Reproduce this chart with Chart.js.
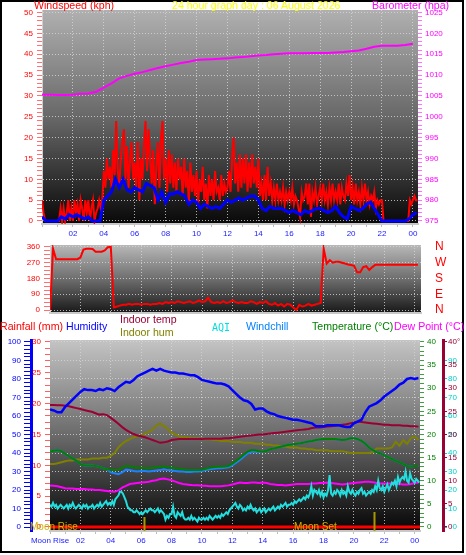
<!DOCTYPE html>
<html>
<head>
<meta charset="utf-8">
<script src="https://cdn.jsdelivr.net/npm/chart.js@4.4.1/dist/chart.umd.min.js"></script>
<style>
  body { margin: 0; background: #fff; }
  #wrap { position: relative; width: 466px; height: 555px; overflow: hidden; font-family: 'Liberation Sans', Arial, sans-serif; }
  #frame { position: absolute; left: 0; top: 0; width: 464px; height: 553px; border: 2px solid #000; box-sizing: border-box; z-index: 5; pointer-events: none; }
  canvas { position: absolute; left: 0; }
  .t { position: absolute; font-size: 10.6px; line-height: 13px; white-space: nowrap; z-index: 6; }
</style>
</head>
<body>
<div id="wrap">
  <canvas id="wind" width="466" height="245" style="top:0"></canvas>
  <canvas id="dir" width="466" height="87" style="top:235px"></canvas>
  <canvas id="outdoor" width="466" height="234" style="top:321px"></canvas>
  <div id="frame"></div>

  <div class="t" style="left:34px;top:-1px;color:#ff0000">Windspeed (kph)</div>
  <div class="t" style="left:172px;top:-1px;color:#ffff00">24 hour graph day : 06 August 2026</div>
  <div class="t" style="left:372px;top:-1px;color:#ff00ff">Barometer (hpa)</div>

  <div class="t" style="left:0;top:320px;color:#ff0000">Rainfall (mm)</div>
  <div class="t" style="left:66px;top:320px;color:#0000ff">Humidity</div>
  <div class="t" style="left:120px;top:313px;color:#990033">Indoor temp</div>
  <div class="t" style="left:120px;top:326px;color:#808000">Indoor hum</div>
  <div class="t" style="left:212px;top:321px;color:#00dddd;font-family:'DejaVu Sans Mono',monospace;font-size:10px">AQI</div>
  <div class="t" style="left:246px;top:320px;color:#0080ff">Windchill</div>
  <div class="t" style="left:312px;top:320px;color:#008000">Temperature (°C)</div>
  <div class="t" style="left:394px;top:320px;color:#ff00ff">Dew Point (°C)</div>
</div>

<script>
const FONT = "'Liberation Sans', Arial, sans-serif";
const GRID = 'rgba(215,215,215,0.8)';

// --- x axis (hours of the day) ---
const hourValues = [0, 2, 4, 6, 8, 10, 12, 14, 16, 18, 20, 22, 24];
const hourLabels = ['', '02', '04', '06', '08', '10', '12', '14', '16', '18', '20', '22', '00'];
const hourLabelsMoon = ['Moon Rise', '02', '04', '06', '08', '10', '12', '14', '16', '18', '20', '22', '00'];

// --- panel 1: wind + barometer ---
const windValues = [0, 5, 10, 15, 20, 25, 30, 35, 40, 45, 50];
const windLabels = ['0', '5', '10', '15', '20', '25', '30', '35', '40', '45', '50'];
const baroValues = [975, 980, 985, 990, 995, 1000, 1005, 1010, 1015, 1020, 1025];
const baroLabels = ['975', '980', '985', '990', '995', '1000', '1005', '1010', '1015', '1020', '1025'];

// gust, one value every 6 minutes, one row per hour
const GUST_STEP = 0.1;
const gustKph = [
  5, 2, 0, 0, 0, 0, 0, 0, 0, 0,
  0, 0, 3, 0, 3, 0, 2, 5, 0, 3,
  0, 5, 2, 4, 0, 5, 3, 0, 5, 2,
  5, 0, 3, 5, 0, 2, 3, 5, 3, 5,
  12, 8, 15, 10, 13, 8, 17, 11, 24, 12,
  9, 15, 19, 22, 10, 18, 8, 15, 19, 10,
  14, 8, 19, 5, 15, 10, 18, 24, 12, 22,
  15, 9, 17, 4, 13, 19, 8, 20, 24, 10,
  15, 7, 17, 9, 16, 8, 14, 7, 15, 10,
  13, 6, 15, 8, 12, 4, 14, 7, 11, 6,
  12, 4, 10, 7, 13, 5, 9, 3, 11, 6,
  10, 5, 12, 7, 8, 5, 11, 6, 9, 7,
  8, 12, 7, 15, 20, 9, 14, 7, 16, 8,
  15, 9, 16, 7, 14, 8, 16, 9, 13, 8,
  15, 6, 9, 5, 11, 5, 13, 6, 9, 5,
  8, 5, 9, 5, 7, 5, 8, 4, 7, 5,
  7, 5, 8, 4, 6, 5, 3, 1, 7, 5,
  6, 9, 4, 9, 1, 7, 5, 8, 4, 6,
  8, 5, 9, 5, 7, 4, 8, 5, 9, 5,
  7, 5, 9, 4, 8, 6, 5, 9, 6, 11,
  5, 8, 4, 9, 5, 7, 4, 8, 5, 9,
  5, 7, 4, 6, 5, 7, 3, 5, 4, 5,
  5, 0, 0, 0, 0, 0, 0, 0, 0, 0,
  0, 0, 0, 0, 0, 0, 0, 0, 5, 4,
  5, 6, 5, 5
];

// average wind, every 15 minutes
const AVG_STEP = 0.25;
const avgKph = [
  1, 0, 0, 0,
  0, 1, 0.5, 1.5,
  1, 1.5, 1, 0.5,
  1, 0, 0, 0,
  5, 6, 7, 10,
  8, 10, 7.5, 7,
  8, 7.5, 7, 9,
  8.5, 8, 5, 7,
  4.5, 6.5, 6.5, 7,
  6.5, 6, 4, 5,
  4.5, 3, 4, 3.5,
  3, 3.5, 3, 4,
  5, 4.5, 5, 5.5,
  5, 5.5, 6, 6,
  5, 3, 2.5, 3.5,
  3, 3, 3, 2.5,
  2, 2.5, 2, 1.5,
  2.5, 2, 2.5, 3,
  3, 2.5, 2, 2.5,
  3.5, 2, 1, 0.5,
  3.5, 3, 2.5, 3,
  4, 4.5, 3, 1.5,
  0, 0, 0, 0,
  0, 0, 0, 0.5,
  1.5, 2
];

// barometer, every 30 minutes
const BARO_STEP = 0.5;
const baroHpa = [
  1005.3, 1005.3, 1005.2, 1005.2, 1005.3, 1005.5, 1005.6, 1006,
  1007, 1008, 1009.2, 1009.8, 1010.3, 1010.7, 1011.2, 1011.7,
  1012.1, 1012.5, 1012.9, 1013.2, 1013.6, 1013.7, 1013.8, 1013.9,
  1014, 1014.2, 1014.3, 1014.5, 1014.7, 1014.8, 1015, 1015.1,
  1015.2, 1015.2, 1015.2, 1015.3, 1015.3, 1015.3, 1015.4, 1015.5,
  1015.7, 1015.9, 1016.3, 1016.8, 1017, 1017, 1017, 1017.2,
  1017.5
];

// --- panel 2: wind direction ---
const dirValues = [0, 90, 180, 270, 360];
const dirLabels = ['0', '90', '180', '270', '360'];
const compassLabels = ['N', 'E', 'S', 'W', 'N'];
const DIR_STEP = 0.2;
const dirDeg = [
  0, 350, 290, 290, 290,
  290, 290, 290, 290, 290,
  300, 345, 350, 350, 348,
  333, 333, 333, 340, 358,
  360, 15, 20, 25, 30,
  30, 35, 30, 35, 35,
  30, 35, 35, 30, 35,
  35, 40, 35, 45, 40,
  45, 40, 50, 45, 40,
  45, 50, 40, 45, 55,
  45, 50, 70, 45, 40,
  45, 40, 50, 40, 45,
  55, 45, 40, 45, 40,
  40, 50, 45, 35, 45,
  40, 50, 35, 30, 40,
  25, 35, 20, 35, 30,
  15, 0, 30, 20, 25,
  35, 25, 30, 35, 40,
  350, 265, 285, 270, 275,
  275, 270, 265, 260, 257,
  252, 215, 215, 245, 250,
  228, 245, 258, 258, 258,
  258, 258, 258, 258, 258,
  258, 258, 258, 258, 258,
  258, 258
];

// --- panel 3: outdoor / indoor ---
const humValues = [0, 10, 20, 30, 40, 50, 60, 70, 80, 90, 100];
const humLabels = ['0', '10', '20', '30', '40', '50', '60', '70', '80', '90', '100'];
const rainValues = [0, 5, 10, 15, 20, 25, 30];
const rainLabels = ['0', '5', '10', '15', '20', '25', '30'];
const tempValues = [0, 5, 10, 15, 20, 25, 30, 35, 40];
const tempLabels = ['0', '5', '10', '15', '20', '25', '30', '35', '40'];
const dewLabels = ['0', '5', '10', '15', '20', '25', '30', '35', '40°'];
const aqiValues = [0, 10, 20, 30, 40, 50, 60, 70, 80, 90];
const aqiLabels = ['0', '10', '20', '30', '40', '50', '60', '70', '80', '90'];

const Q_STEP = 0.25;
const humidity = [
  63.5, 63, 62, 62,  65, 67, 69, 71,  73, 74.5, 74, 74,  73.5, 74.5, 74, 75,
  74.5, 73.5, 75.5, 77,  78.5, 78, 79.5, 81.5,  82.5, 83.5, 84.5, 85.5,  84.5, 85.5, 84.5, 84,
  83.5, 83.5, 83, 83,  82.5, 82, 82, 81,  79.5, 79, 78.5, 78,  77.5, 77.5, 77, 76,
  74, 72, 70, 68.5,  68, 66.5, 63.5, 64,  64, 62.5, 61.5, 61,  60, 59.5, 59, 58.5,
  58, 58, 57.5, 57,  56.5, 56, 54.5, 54.5,  54.5, 55, 55, 55,  55, 54.5, 54, 54,
  56, 57, 58, 62,  65, 66, 67, 68.5,  70.5, 72, 73.5, 75,  77, 78, 80, 80.5,
  80, 80.5
];
const temperature = [
  16.3, 16.5, 16.6, 16.4,  15.8, 15.3, 14.8, 14.3,  13.6, 13.3, 13.3, 13.3,  13.2, 13, 12.7, 12.5,
  12.4, 12.3, 12.4, 12.8,  13.2, 13.1, 12.9, 12.8,  12.8, 12.7, 12.7, 12.8,  12.9, 13, 13.1, 12.9,
  12.8, 12.7, 12.6, 12.5,  12.3, 12.3, 12.3, 12.3,  12.4, 12.6, 12.8, 12.9,  13, 13, 13.1, 13.2,
  13.7, 14.3, 14.9, 15.6,  16.3, 16.6, 16.6, 16.4,  16.3, 16.5, 16.8, 17,  17.2, 17.4, 17.6, 17.8,
  17.9, 18, 18.1, 18.3,  18.5, 18.6, 18.8, 18.9,  19, 19, 19, 19,  18.9, 18.8, 18.9, 19.2,
  19.2, 19, 18.6, 18,  17.2, 16.6, 16.2, 15.9,  15.5, 15.1, 14.7, 14.3,  14, 13.6, 13.2, 13.1,
  13.2, 13.2
];
const windchill = [
  16.3, 16.5, 16.6, 16.4,  15.8, 15.3, 14.8, 14.3,  13.6, 13.3, 13.3, 13.3,  13.2, 13, 12.7, 12.5,
  11.8, 11.6, 11.4, 11.8,  12.4, 12.3, 12.1, 12,  12.1, 12.1, 12, 12.1,  12.2, 12.3, 12.5, 12.3,
  12.2, 12.1, 12, 12,  11.9, 11.9, 12, 12,  12.1, 12.3, 12.5, 12.6,  12.7, 12.7, 12.8, 12.9,
  13.3, 13.9, 14.5, 15.2,  15.9, 16.2, 16.3, 16.2,  16.3, 16.5, 16.8, 17,  17.2, 17.4, 17.6, 17.8,
  17.9, 18, 18.1, 18.3,  18.5, 18.6, 18.8, 18.9,  19, 19, 19, 19,  18.9, 18.8, 18.9, 19.2,
  19.2, 19, 18.6, 18,  17.2, 16.6, 16.2, 15.9,  15.5, 15.1, 14.7, 14.3,  14, 13.6, 13.2, 13.1,
  13.2, 13.2
];
const indoorTemp = [
  26.4, 26.4, 26.3, 26.3,  26.2, 26.1, 25.9, 25.7,  25.5, 25.3, 25.1, 24.9,  24.6, 24.3, 24.4, 24.2,
  23.6, 23, 22.3, 21.6,  21, 20.5, 20.1, 19.8,  19.6, 19.4, 19.1, 18.8,  18.5, 18.2, 18.3, 18.5,
  18.8, 18.9, 19, 19,  19, 19, 19, 19,  19, 19.1, 19.1, 19.1,  19.1, 19.1, 19.2, 19.2,
  19.3, 19.4, 19.5, 19.6,  19.7, 19.8, 19.9, 20,  20, 20.1, 20.2, 20.3,  20.4, 20.5, 20.6, 20.7,
  20.8, 20.9, 21, 21.1,  21.2, 21.4, 21.5, 21.5,  21.6, 21.7, 21.8, 21.9,  22, 22.1, 22.2, 22.4,
  22.6, 22.8, 22.7, 22.6,  22.5, 22.4, 22.3, 22.2,  22.1, 22.1, 22, 22,  22, 21.9, 21.9, 21.8,
  21.8, 21.7
];
const indoorHum = [
  34, 34, 34.5, 35,  35.5, 36, 36, 36.5,  36.5, 36.5, 36.5, 37,  37, 37, 37.5, 37.5,
  38.5, 40, 43, 45,  46.5, 47.5, 48.5, 49,  49.5, 50.5, 51.5, 52.5,  55, 56, 54.5, 53,
  51, 50, 49, 48.5,  48.5, 48, 48, 48,  47.5, 47.5, 47.5, 47,  47, 46.5, 46.5, 46.5,
  46, 46, 46, 45.5,  45.5, 45.5, 45, 45,  45, 44.5, 44.5, 44,  44, 43.5, 43.5, 43,
  43, 43, 42.5, 42.5,  42, 42, 41.5, 41.5,  41.5, 41.5, 41, 41,  41, 41, 40.5, 40,
  40, 40, 40, 40,  40, 40.5, 42.5, 42.5,  42.5, 42.5, 43, 46,  44, 47, 45, 48,
  49, 47
];
const dewPoint = [
  9, 8.9, 8.8, 8.6,  8.4, 8.3, 8.3, 8.2,  8.2, 8.2, 8.1, 8.1,  8, 8, 7.9, 7.8,
  7.7, 7.6, 7.9, 8.5,  8.9, 9.3, 9.4, 9.5,  9.6, 9.7, 9.8, 10,  10.1, 10.4, 10.5, 10.3,
  10.1, 9.8, 9.5, 9.3,  9.2, 9.1, 9, 9,  8.9, 8.9, 8.8, 8.8,  8.8, 8.8, 8.9, 9,
  9.2, 9.4, 9.6, 9.5,  9.5, 9.6, 9.6, 9.5,  9.6, 9.5, 9.3, 9.2,  9.1, 9.1, 9, 9.1,
  9.2, 9.3, 9.3, 9.3,  9.3, 9.4, 9.4, 9.5,  9.5, 9.6, 9.5, 9.4,  9.3, 9.2, 9.3, 9.4,
  9.5, 9.6, 9.7, 9.8,  9.8, 9.7, 9.5, 9.4,  9.4, 9.4, 9.4, 9.3,  9.3, 9.2, 9.2, 9.3,
  9.5, 9.6
];

const AQI_STEP = 0.1;
const aqi = [
  12, 11, 13, 11, 12, 10, 11, 12, 11, 10,
  11, 12, 10, 12, 11, 13, 11, 10, 11, 12,
  11, 10, 12, 11, 12, 10, 11, 11, 12, 10,
  11, 12, 11, 13, 11, 12, 13, 14, 12, 13,
  12, 14, 12, 15, 16, 17, 19, 19, 18, 16,
  14, 11, 10, 9, 9, 8, 8, 9, 8, 7,
  8, 7, 8, 9, 8, 9, 10, 9, 9, 8,
  9, 10, 8, 9, 8, 7, 4, 6, 5, 7,
  7, 11, 6, 5, 8, 7, 6, 8, 5, 4,
  4, 5, 4, 6, 4, 5, 4, 3, 5, 4,
  4, 5, 4, 5, 4, 6, 5, 4, 5, 6,
  5, 6, 5, 7, 6, 7, 8, 7, 9, 10,
  11, 12, 13, 11, 10, 12, 11, 9, 10, 9,
  11, 10, 12, 10, 9, 10, 8, 9, 10, 8,
  9, 10, 8, 9, 10, 9, 10, 11, 9, 10,
  11, 10, 12, 11, 12, 13, 11, 12, 12, 13,
  12, 14, 13, 14, 15, 14, 15, 16, 15, 17,
  16, 18, 22, 17, 20, 19, 18, 20, 17, 19,
  16, 18, 17, 20, 28, 18, 17, 19, 18, 20,
  19, 17, 20, 18, 19, 17, 22, 19, 18, 20,
  18, 17, 19, 18, 20, 21, 18, 19, 17, 18,
  19, 18, 20, 19, 22, 20, 25, 21, 20, 22,
  19, 21, 23, 20, 22, 24, 23, 25, 22, 27,
  24, 26, 27, 26, 30, 25, 24, 29, 26, 25,
  24, 26, 25, 24
];

const RAIN_STEP = 0.5;
const rainfall = [
  0, 0, 0, 0, 0, 0, 0, 0, 0, 0, 0, 0, 0, 0, 0, 0, 0, 0, 0, 0, 0, 0, 0, 0, 0,
  0, 0, 0, 0, 0, 0, 0, 0, 0, 0, 0, 0, 0, 0, 0, 0, 0, 0, 0, 0, 0, 0, 0, 0, 0
];

const moonHours = [6.2, 21.3];
const moonTexts = ['Moon Rise', 'Moon Set'];

// ------------------------------------------------------------------

// Значения -> точки {x: час, y}
function pts(values, step) {
  return values.map((v, i) => ({ x: i * step, y: v }));
}

function stepTicks(from, to, step) {
  const t = [];
  for (let v = from; v <= to + 1e-6; v += step) t.push({ value: Math.round(v * 100) / 100 });
  return t;
}

// Вертикальная ось с мелкими рисками и подписями только для основных значений
function valueAxis(o) {
  return {
    type: 'linear',
    position: o.pos,
    weight: o.weight || 0,
    min: o.min,
    max: o.max,
    afterBuildTicks: (s) => { s.ticks = stepTicks(o.from, o.to, o.step); },
    afterFit: (s) => { s.width = o.width; },
    ticks: {
      autoSkip: false,
      mirror: !!o.mirror,
      color: o.color,
      padding: o.pad,
      font: { family: FONT, size: o.size || 8 },
      callback: (v) => {
        const k = o.values.indexOf(v);
        return k < 0 ? '' : o.labels[k];
      },
    },
    grid: {
      drawOnChartArea: !!o.grid,
      drawTicks: o.tick > 0,
      tickLength: o.tick,
      tickColor: o.tickColor || o.color,
      color: (c) => (c.tick && o.values.includes(c.tick.value) ? GRID : 'transparent'),
    },
    border: {
      display: !!o.border,
      color: o.border || 'transparent',
      width: o.borderWidth || 1,
      dash: [1, 2],
    },
  };
}

function hourAxis(o) {
  return {
    type: 'linear',
    position: 'bottom',
    min: 0,
    max: o.max,
    afterBuildTicks: (s) => { s.ticks = stepTicks(0, 24, 1); },
    afterFit: (s) => { s.height = o.height; },
    ticks: {
      display: !!o.labels,
      autoSkip: false,
      maxRotation: 0,
      color: '#2020ff',
      padding: 2,
      font: { family: FONT, size: 8 },
      callback: (v) => {
        const k = hourValues.indexOf(v);
        return k < 0 || !o.labels ? '' : o.labels[k];
      },
    },
    grid: {
      drawTicks: o.height > 0,
      tickLength: 3,
      tickColor: '#bdbdbd',
      color: (c) => (c.tick && c.tick.value > 0 && hourValues.includes(c.tick.value) ? GRID : 'transparent'),
    },
    border: { display: true, color: '#c8c8c8', width: 2, dash: [1, 2] },
  };
}

// Плагин: серый градиент за полем графика
const panelBg = {
  id: 'panelBg',
  beforeDraw(chart, args, options) {
    const { ctx, chartArea: { left, top, width, height } } = chart;
    const g = ctx.createLinearGradient(0, top, 0, top + height);
    options.stops.forEach(([p, c]) => g.addColorStop(p, c));
    ctx.save();
    ctx.fillStyle = g;
    ctx.fillRect(left, top, width, height);
    ctx.restore();
  },
};

// Плагин: восход / заход луны
const moonMarks = {
  id: 'moonMarks',
  afterDraw(chart) {
    const { ctx, chartArea: { bottom }, scales: { x } } = chart;
    const lens = [14, 19];
    const textX = [30, 294];
    ctx.save();
    ctx.strokeStyle = '#a89800';
    ctx.lineWidth = 2;
    moonHours.forEach((h, i) => {
      const px = Math.round(x.getPixelForValue(h)) + 0.5;
      ctx.beginPath();
      ctx.moveTo(px, bottom - lens[i]);
      ctx.lineTo(px, bottom);
      ctx.stroke();
    });
    ctx.fillStyle = '#c8b800';
    ctx.font = '10px ' + FONT;
    ctx.textBaseline = 'middle';
    moonTexts.forEach((t, i) => ctx.fillText(t, textX[i], bottom - 4));
    ctx.restore();
  },
};

function makeChart(id, datasets, scales, padding, stops, extra) {
  return new Chart(document.getElementById(id), {
    type: 'line',
    data: { datasets },
    options: {
      responsive: false,
      animation: false,
      events: [],
      layout: { padding },
      elements: { point: { radius: 0 }, line: { tension: 0, borderWidth: 2 } },
      plugins: { legend: { display: false }, tooltip: { enabled: false }, panelBg: { stops } },
      scales,
    },
    plugins: [panelBg].concat(extra || []),
  });
}

// Панель 1: ветер и давление
makeChart('wind', [
  { data: pts(avgKph, AVG_STEP), borderColor: '#0000ff', borderWidth: 3, yAxisID: 'y' },
  { data: pts(gustKph, GUST_STEP), borderColor: '#ff0000', borderWidth: 2, yAxisID: 'y' },
  { data: pts(baroHpa, BARO_STEP), borderColor: '#ff00ff', borderWidth: 2, yAxisID: 'yb' },
], {
  x: hourAxis({ max: 24.33, height: 21, labels: hourLabels }),
  y: valueAxis({ pos: 'left', min: -0.72, max: 50.6, from: 0, to: 50, step: 1, values: windValues, labels: windLabels,
    color: '#ff0000', tickColor: '#ff7070', pad: 4, tick: 5, width: 42, grid: true, border: '#cfcfcf' }),
  yb: valueAxis({ pos: 'right', min: 974.28, max: 1025.6, from: 975, to: 1025, step: 1, values: baroValues, labels: baroLabels,
    color: '#ff00ff', tickColor: '#ff70ff', pad: 3, tick: 4, width: 48 }),
}, { top: 10, bottom: 0, left: 0, right: 0 },
[[0, '#b0b0b0'], [0.5, '#686868'], [1, '#080808']]);

// Панель 2: направление ветра (отступ букв сторон света задаём прозрачной риской)
makeChart('dir', [
  { data: pts(dirDeg, DIR_STEP), borderColor: '#ff0000', borderWidth: 2, yAxisID: 'y' },
], {
  x: hourAxis({ max: 24.4, height: 0, labels: null }),
  y: valueAxis({ pos: 'left', min: -17, max: 371, from: 0, to: 360, step: 22.5, values: dirValues, labels: dirLabels,
    color: '#ff0000', tickColor: '#ff7070', pad: 4, tick: 6, width: 50, grid: true, border: '#cfcfcf' }),
  yc: valueAxis({ pos: 'right', min: -17, max: 371, from: 0, to: 360, step: 90, values: dirValues, labels: compassLabels,
    color: '#ff0000', tickColor: 'transparent', pad: 0, tick: 14, width: 45, size: 12 }),
}, { top: 10, bottom: 9, left: 0, right: 0 },
[[0, '#b8b8b8'], [0.5, '#6e6e6e'], [1, '#181818']]);

// Панель 3: температура, влажность и т.д.
makeChart('outdoor', [
  { data: pts(rainfall, RAIN_STEP), borderColor: '#ff0000', borderWidth: 3, yAxisID: 'yRain' },
  { data: pts(humidity, Q_STEP), borderColor: '#0000ff', borderWidth: 2.5, yAxisID: 'yHum' },
  { data: pts(temperature, Q_STEP), borderColor: '#008000', borderWidth: 2, yAxisID: 'yTemp' },
  { data: pts(windchill, Q_STEP), borderColor: '#1e80ff', borderWidth: 2, yAxisID: 'yTemp' },
  { data: pts(indoorTemp, Q_STEP), borderColor: '#990033', borderWidth: 2, yAxisID: 'yTemp' },
  { data: pts(indoorHum, Q_STEP), borderColor: '#808000', borderWidth: 2, yAxisID: 'yHum' },
  { data: pts(aqi, AQI_STEP), borderColor: '#22dede', borderWidth: 2, yAxisID: 'yAqi' },
  { data: pts(dewPoint, Q_STEP), borderColor: '#ff00ff', borderWidth: 2, yAxisID: 'yDew' },
], {
  x: hourAxis({ max: 24.35, height: 20, labels: hourLabelsMoon }),
  yHum: valueAxis({ pos: 'left', weight: 1, min: -2.16, max: 101.08, from: 0, to: 100, step: 2, values: humValues, labels: humLabels,
    color: '#0000ff', pad: 3, tick: 7, width: 31, grid: true, border: '#0000ff', borderWidth: 3 }),
  yRain: valueAxis({ pos: 'left', weight: 0, min: -0.65, max: 30.32, from: 0, to: 30, step: 1, values: rainValues, labels: rainLabels,
    color: '#ff0000', tickColor: '#ff6060', pad: 4, tick: 5, width: 19 }),
  yTemp: valueAxis({ pos: 'right', weight: 0, min: -0.865, max: 40.43, from: 0, to: 40, step: 1, values: tempValues, labels: tempLabels,
    color: '#008000', tickColor: '#40a040', pad: 3, tick: 4, width: 23 }),
  // подписи AQI рисуем «зеркально», чтобы они не обрезались рамкой оси нулевой ширины
  yAqi: valueAxis({ pos: 'right', weight: 1, min: -2.16, max: 101.08, from: 0, to: 90, step: 10, values: aqiValues, labels: aqiLabels,
    color: '#00cccc', pad: 14, tick: 4, width: 0, mirror: true }),
  yDew: valueAxis({ pos: 'right', weight: 2, min: -0.865, max: 40.43, from: 0, to: 40, step: 5, values: tempValues, labels: dewLabels,
    color: '#990033', pad: 1, tick: 4, width: 23, border: '#990033', borderWidth: 3 }),
}, { top: 19, bottom: 4, left: 0, right: 0 },
[[0, '#c4c4c4'], [0.5, '#6a6a6a'], [1, '#050505']], [moonMarks]);
</script>
</body>
</html>
